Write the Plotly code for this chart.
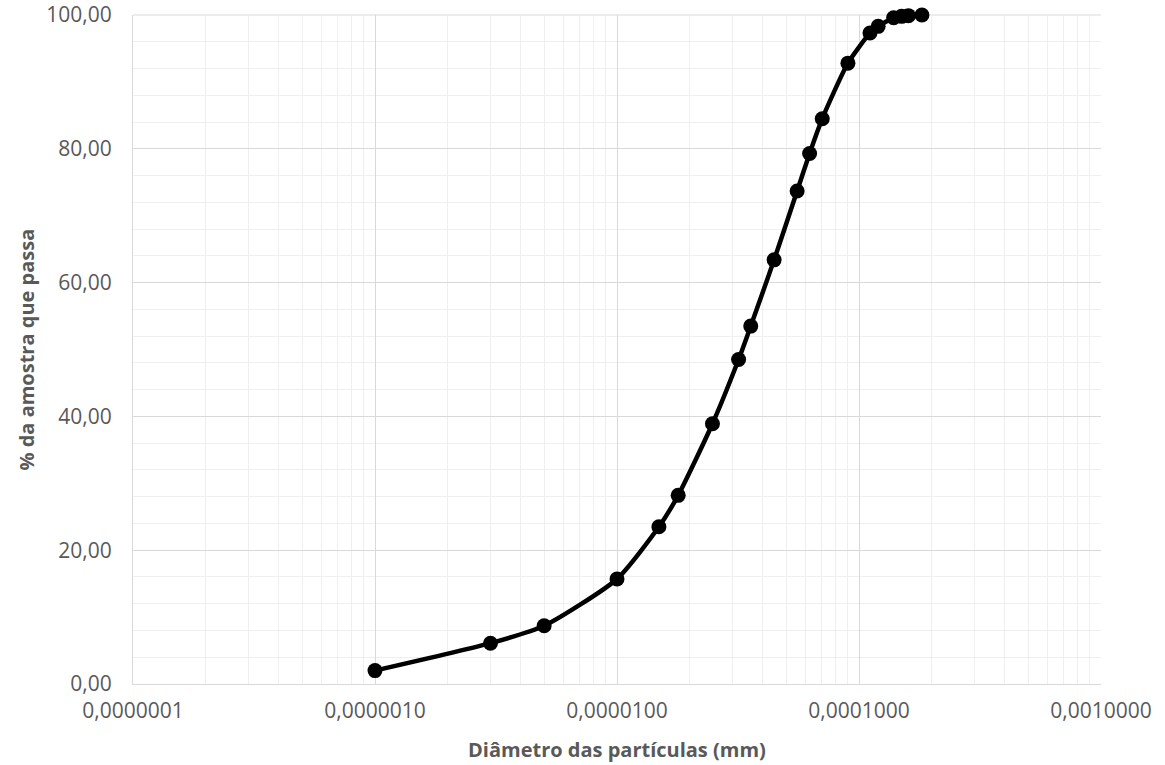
import numpy as np
import plotly.graph_objects as go

diametro_mm = [1.0e-6, 3.0e-6, 5.0e-6, 1.0e-5, 1.49e-5, 1.79e-5, 2.48e-5, 3.18e-5,
               3.57e-5, 4.46e-5, 5.55e-5, 6.25e-5, 7.05e-5, 9.0e-5, 1.11e-4, 1.2e-4,
               1.39e-4, 1.5e-4, 1.6e-4, 1.82e-4]
passa_pct = [2.0, 6.1, 8.7, 15.7, 23.5, 28.2, 38.9, 48.5,
             53.5, 63.4, 73.7, 79.3, 84.5, 92.8, 97.3, 98.3,
             99.6, 99.8, 99.9, 100.0]

x_ticks = [1e-7, 1e-6, 1e-5, 1e-4, 1e-3]
x_ticktext = ["0,0000001", "0,0000010", "0,0000100", "0,0001000", "0,0010000"]
y_ticks = [0, 20, 40, 60, 80, 100]
y_ticktext = ["0,00", "20,00", "40,00", "60,00", "80,00", "100,00"]

minor_x = [m * d for d in [1e-7, 1e-6, 1e-5, 1e-4] for m in range(2, 10)]

x_title = "Diâmetro das partículas (mm)"
y_title = "% da amostra que passa"

fig = go.Figure()
fig.add_trace(go.Scatter(
    x=diametro_mm, y=passa_pct, mode="lines+markers",
    line=dict(color="black", width=4.5, shape="spline", smoothing=0.6),
    marker=dict(color="black", size=15),
    cliponaxis=False,
    showlegend=False,
))

font_family = "Open Sans, Liberation Sans, sans-serif"
grey = "#595959"
fig.update_layout(
    width=1165, height=765,
    margin=dict(l=133, r=64, t=15, b=81),
    paper_bgcolor="white", plot_bgcolor="white",
    font=dict(family=font_family, color=grey, size=21),
    xaxis=dict(
        type="log", range=[-7, -3], automargin=False,
        tickmode="array", tickvals=x_ticks, ticktext=x_ticktext,
        showgrid=True, gridcolor="#d9d9d9", gridwidth=1,
        showline=True, linecolor="#d9d9d9", linewidth=1,
        ticks="", zeroline=False, ticklabelstandoff=8,
        ticklabeloverflow="allow",
        minor=dict(tickmode="array", tickvals=minor_x, showgrid=True,
                   gridcolor="#efefef", gridwidth=1, ticks=""),
        tickfont=dict(size=21, color=grey),
    ),
    yaxis=dict(
        range=[0, 100], automargin=False,
        tickmode="array", tickvals=y_ticks, ticktext=y_ticktext,
        showgrid=True, gridcolor="#d9d9d9", gridwidth=1,
        showline=True, linecolor="#d9d9d9", linewidth=1,
        ticks="", zeroline=False,
        ticklabeloverflow="allow",
        minor=dict(dtick=4, showgrid=True, gridcolor="#efefef", gridwidth=1, ticks=""),
        tickfont=dict(size=21, color=grey),
        ticklabelstandoff=16,
    ),
    shapes=[
        dict(type="line", xref="paper", yref="paper", x0=0, x1=1, y0=1, y1=1,
             line=dict(color="#d9d9d9", width=1), layer="below"),
    ],
    annotations=[
        dict(text="<b>" + x_title + "</b>", xref="paper", yref="paper",
             x=0.5, y=0, xanchor="center", yanchor="middle", yshift=-65,
             showarrow=False, font=dict(size=20, color=grey, family=font_family)),
        dict(text="<b>" + y_title + "</b>", xref="paper", yref="paper",
             x=0, y=0.5, xanchor="center", yanchor="middle", xshift=-107,
             textangle=-90, showarrow=False,
             font=dict(size=20, color=grey, family=font_family)),
    ],
)

fig.write_html("out.html", config={"displayModeBar": False},
               post_script="document.body.style.margin='0';")
